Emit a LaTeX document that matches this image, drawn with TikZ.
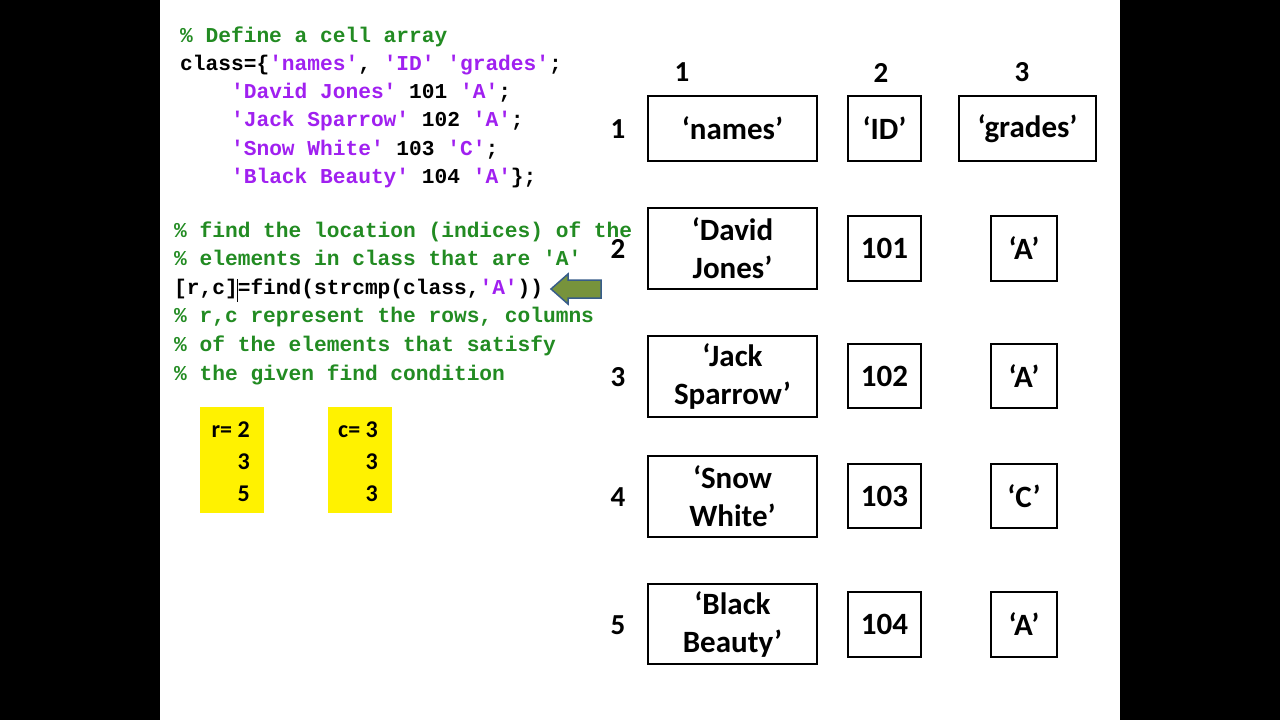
\documentclass[tikz,border=0pt]{standalone}
\usepackage{fontspec}
\setmainfont{Carlito}
\newfontfamily\codefont{Liberation Mono}
\definecolor{cmt}{RGB}{34,139,34}
\definecolor{str}{RGB}{160,32,240}
\definecolor{arrowfill}{RGB}{119,147,60}
\definecolor{arrowline}{RGB}{56,93,138}
\tikzset{
  code/.style={anchor=base west, inner sep=0pt, font=\codefont\bfseries\fontsize{21.2}{28}\selectfont},
  cell/.style={draw=black, line width=2pt, inner sep=0pt, align=center,
    font=\bfseries\fontsize{31}{38}\selectfont},
  idx/.style={inner sep=0pt, font=\bfseries\fontsize{29}{32}\selectfont},
  ybox/.style={fill=yellow, inner sep=0pt, minimum width=64, minimum height=106},
  yval/.style={anchor=base east, inner sep=0pt, font=\bfseries\fontsize{24}{30}\selectfont},
  bigarrow/.style={fill=arrowfill, draw=arrowline, line width=1.5pt, line join=miter}
}
\begin{document}
\begin{tikzpicture}[x=1pt,y=-1pt]
\useasboundingbox (0,0) rectangle (1280,720);
\fill[black] (0,0) rectangle (1280,720);
\fill[white] (160,0) rectangle (1120,720);

% ---- code block 1
\node[code] (c1) at (180,42) {\textcolor{cmt}{\% Define a cell array}};
\node[code] (c2) at (180,70.3) {class=\{\textcolor{str}{'names'}, \textcolor{str}{'ID'} \textcolor{str}{'grades'};};
\node[code] (c3) at (230.9,98.6) {\textcolor{str}{'David Jones'} 101 \textcolor{str}{'A'};};
\node[code] (c4) at (230.9,126.9) {\textcolor{str}{'Jack Sparrow'} 102 \textcolor{str}{'A'};};
\node[code] (c5) at (230.9,155.2) {\textcolor{str}{'Snow White'} 103 \textcolor{str}{'C'};};
\node[code] (c6) at (230.9,183.5) {\textcolor{str}{'Black Beauty'} 104 \textcolor{str}{'A'}\};};

% ---- code block 2
\node[code] (d1) at (174,237) {\textcolor{cmt}{\% find the location (indices) of the}};
\node[code] (d2) at (174,265.6) {\textcolor{cmt}{\% elements in class that are 'A'}};
\node[code] (d3) at (174,294.2) {[r,c]=find(strcmp(class,\textcolor{str}{'A'}))};
\node[code] (d4) at (174,322.8) {\textcolor{cmt}{\% r,c represent the rows, columns}};
\node[code] (d5) at (174,351.4) {\textcolor{cmt}{\% of the elements that satisfy}};
\node[code] (d6) at (174,380) {\textcolor{cmt}{\% the given find condition}};
\coordinate (curtop) at (237.5,279);
\coordinate (curbot) at (237.5,302);
\draw[line width=1pt] (curtop) -- (curbot);

% ---- arrow
\path[bigarrow] (551,289) -- (568,274) -- (568,280) -- (601,280) -- (601,298)
  -- (568,298) -- (568,304) -- cycle;

% ---- result boxes
\node[ybox] (rbox) at (232,460) {};
\node[ybox] (cbox) at (360,460) {};
\node[yval] (r1) at (250,437) {r= 2};
\node[yval] (r2) at (250,469) {3};
\node[yval] (r3) at (250,501) {5};
\node[yval] (k1) at (378,437) {c= 3};
\node[yval] (k2) at (378,469) {3};
\node[yval] (k3) at (378,501) {3};

% ---- index labels
\node[idx] (h1) at (682,72.5) {1};
\node[idx] (h2) at (881,72.5) {2};
\node[idx] (h3) at (1022,72.5) {3};
\node[idx] (v1) at (618,129) {1};
\node[idx] (v2) at (618,249) {2};
\node[idx] (v3) at (618,377) {3};
\node[idx] (v4) at (618,497) {4};
\node[idx] (v5) at (618,625) {5};

% ---- cells
\node[cell, minimum width=169, minimum height=65] (a11) at (732.5,128.5) {‘names’};
\node[cell, minimum width=73, minimum height=65] (a12) at (884.5,128.5) {‘ID’};
\node[cell, minimum width=137, minimum height=65] (a13) at (1027.5,128.5) {‘grades’};

\node[cell, minimum width=169, minimum height=81] (a21) at (732.5,248.5) {‘David\\Jones’};
\node[cell, minimum width=73, minimum height=65] (a22) at (884.5,248.5) {101};
\node[cell, minimum width=66, minimum height=65] (a23) at (1024,248.5) {‘A’};

\node[cell, minimum width=169, minimum height=81] (a31) at (732.5,376.5) {‘Jack\\Sparrow’};
\node[cell, minimum width=73, minimum height=64] (a32) at (884.5,376) {102};
\node[cell, minimum width=66, minimum height=64] (a33) at (1024,376) {‘A’};

\node[cell, minimum width=169, minimum height=81] (a41) at (732.5,496.5) {‘Snow\\White’};
\node[cell, minimum width=73, minimum height=64] (a42) at (884.5,496) {103};
\node[cell, minimum width=66, minimum height=64] (a43) at (1024,496) {‘C’};

\node[cell, minimum width=169, minimum height=80] (a51) at (732.5,624) {‘Black\\Beauty’};
\node[cell, minimum width=73, minimum height=65] (a52) at (884.5,624.5) {104};
\node[cell, minimum width=66, minimum height=65] (a53) at (1024,624.5) {‘A’};
\end{tikzpicture}
\end{document}
